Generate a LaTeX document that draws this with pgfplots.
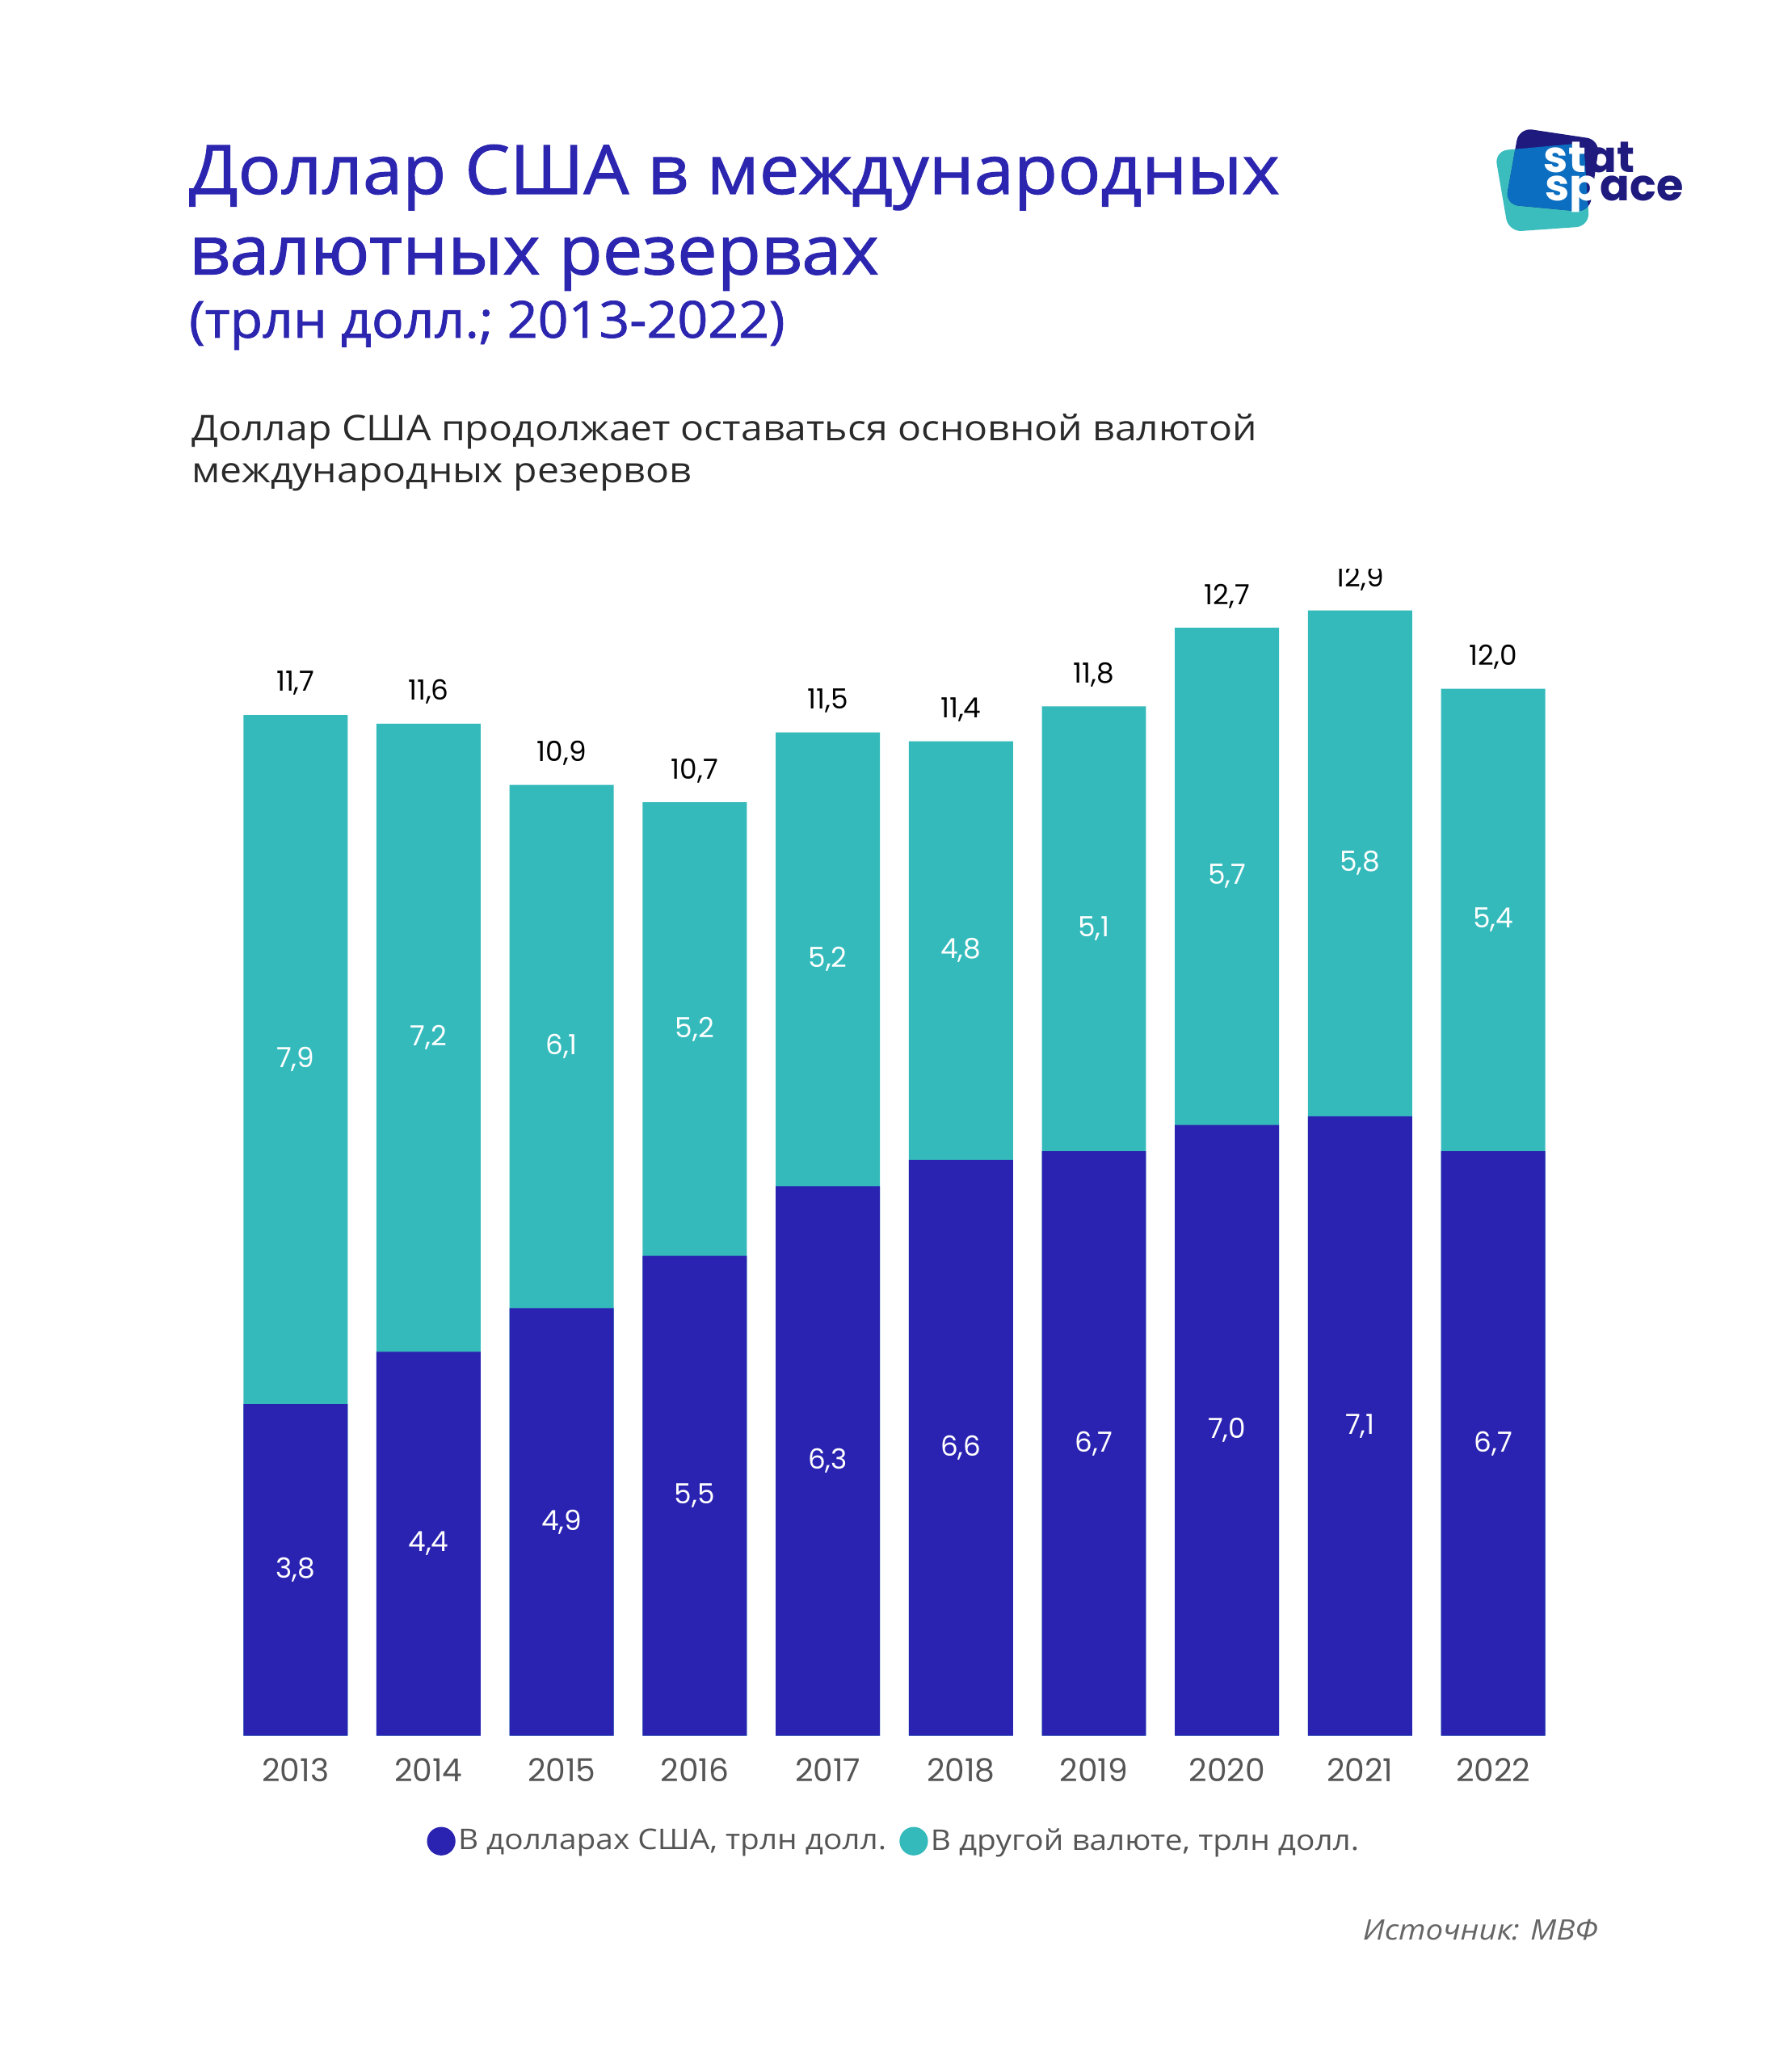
\documentclass[border=0pt]{standalone}
\usepackage{fontspec}
\usepackage{pgfplots}
\usepackage{pgfplotstable}
\pgfplotsset{compat=1.18}
\setmainfont{Open Sans}[FakeStretch=1.1]
\newfontfamily\titlefont{Open Sans}[FakeBold=1.2,FakeStretch=1.05]
\newfontfamily\numfont{Poppins}
\newfontfamily\logofont{Poppins}

\definecolor{cdark}{HTML}{2A23B1}
\definecolor{cteal}{HTML}{35BABC}
\definecolor{ctitle}{HTML}{2B25B0}
\definecolor{cgray}{HTML}{555555}
\definecolor{csub}{HTML}{2A2A2A}
\definecolor{lnavy}{HTML}{1E1A7E}
\definecolor{lteal}{HTML}{3BBDBD}
\definecolor{lblue}{HTML}{0B6EC0}

\pgfplotstableread{
x year usd other total
0 2013 3.8 7.9 11.7
1 2014 4.4 7.2 11.6
2 2015 4.9 6.1 10.9
3 2016 5.5 5.2 10.7
4 2017 6.3 5.2 11.5
5 2018 6.6 4.8 11.4
6 2019 6.7 5.1 11.8
7 2020 7.0 5.7 12.7
8 2021 7.1 5.8 12.9
9 2022 6.7 5.4 12.0
}\data

\begin{document}
\begin{tikzpicture}
% background, coordinates in shrunk pixels: (px,py) -> (0.5px pt, -0.5py pt)
\begin{scope}[x=0.5pt,y=-0.5pt]
\fill[white] (0,0) rectangle (1358,1568);
\useasboundingbox (0,0) rectangle (1358,1568);
\end{scope}

\begin{axis}[
  at={(81.75pt,-658pt)}, anchor=south west,
  width=514.5pt, height=463pt, scale only axis,
  xmin=-0.6, xmax=9.6, ymin=0, ymax=14,
  clip=false,
  axis line style={draw=none},
  ytick=\empty,
  xtick={0,...,9},
  xticklabels={2013,2014,2015,2016,2017,2018,2019,2020,2021,2022},
  major tick length=0pt,
  xticklabel style={anchor=center, yshift=-13pt, text=cgray, font=\numfont\fontsize{12}{12}\selectfont},
  /pgf/number format/.cd, use comma, fixed, fixed zerofill, precision=1, assume math mode=true,
  /pgfplots/.cd,
  legend style={at={(0.5,0)}, anchor=center, yshift=-40pt, draw=none, fill=none,
    inner sep=0pt, legend columns=2,
    nodes={inner sep=1pt, text=cgray, font=\fontsize{10.8}{12}\selectfont},
    /tikz/every even column/.append style={column sep=4pt}},
  legend cell align=left,
]
\addplot[ybar, bar width=0.783, bar shift=0pt, fill=cteal, draw=none, forget plot]
  table[x=x, y=total] {\data};
\addplot[ybar, bar width=0.783, bar shift=0pt, fill=cdark, draw=none, forget plot]
  table[x=x, y=usd] {\data};
% labels inside dark segment
\addplot[draw=none, mark=none, forget plot, nodes near coords, point meta=explicit,
  nodes near coords style={anchor=center, text=white, font=\numfont\fontsize{10.5}{12}\selectfont}]
  table[x=x, y expr=\thisrow{usd}/2, meta=usd] {\data};
% labels inside teal segment
\addplot[draw=none, mark=none, forget plot, nodes near coords, point meta=explicit,
  nodes near coords style={anchor=center, text=white, font=\numfont\fontsize{10.5}{12}\selectfont}]
  table[x=x, y expr=(\thisrow{usd}+\thisrow{total})/2, meta=other] {\data};
% totals
\addplot[draw=none, mark=none, forget plot, nodes near coords, point meta=explicit,
  nodes near coords style={anchor=center, yshift=12pt, text=black, font=\numfont\fontsize{10.5}{12}\selectfont}]
  table[x=x, y=total, meta=total] {\data};

\addlegendimage{legend image code/.code={\fill[cdark] (0,0) circle (5.2pt);}}
\addlegendentry{В долларах США, трлн долл.}
\addlegendimage{legend image code/.code={\fill[cteal] (0,0) circle (5.2pt);}}
\addlegendentry{В другой валюте, трлн долл.}
\end{axis}

\begin{scope}[x=0.5pt,y=-0.5pt]
% cover to mimic the clipped top label
\fill[white] (140,395) rectangle (1250,431);

% titles
\node[anchor=base west, inner sep=0pt, text=ctitle, font=\titlefont\fontsize{25.8}{30}\selectfont] at (143,147) {Доллар США в международных};
\node[anchor=base west, inner sep=0pt, text=ctitle, font=\titlefont\fontsize{25.8}{30}\selectfont] at (143,208) {валютных резервах};
\node[anchor=base west, inner sep=0pt, text=ctitle, font=\titlefont\fontsize{19.3}{24}\selectfont] at (143,256) {(трлн долл.; 2013-2022)};

\node[anchor=base west, inner sep=0pt, text=csub, font=\fontsize{13.4}{15}\selectfont] at (145,334) {Доллар США продолжает оставаться основной валютой};
\node[anchor=base west, inner sep=0pt, text=csub, font=\fontsize{13.4}{15}\selectfont] at (145,366) {международных резервов};

\node[anchor=base east, inner sep=0pt, text=cgray!90, font=\itshape\fontsize{10.7}{12}\selectfont] at (1212,1471) {Источник: МВФ};

% logo
\def\navyshape{(1151.6,96.8) -- (1212.9,106) -- (1204.9,161) -- (1141.2,155) -- cycle}
\def\tealshape{(1133,114.5) -- (1200.6,108.4) -- (1204.9,171.5) -- (1143.6,175.8) -- cycle}
\fill[lteal, rounded corners=5pt] \tealshape;
\fill[lnavy, rounded corners=5pt] \navyshape;
\begin{scope}
\clip[rounded corners=5pt] \navyshape;
\fill[lblue, rounded corners=5pt] \tealshape;
\end{scope}
\node[anchor=base west, inner sep=0pt, text=white, font=\logofont\bfseries\fontsize{16.6}{16}\selectfont] (st1) at (1170,131) {st};
\node[anchor=base west, inner sep=0pt, text=lnavy, font=\logofont\bfseries\fontsize{16.6}{16}\selectfont] at (st1.base east) {at};
\node[anchor=base west, inner sep=0pt, text=white, font=\logofont\bfseries\fontsize{16.6}{16}\selectfont] (sp1) at (1171,152) {sp};
\node[anchor=base west, inner sep=0pt, text=lnavy, font=\logofont\bfseries\fontsize{16.6}{16}\selectfont] at (sp1.base east) {ace};
\end{scope}
\end{tikzpicture}
\end{document}
